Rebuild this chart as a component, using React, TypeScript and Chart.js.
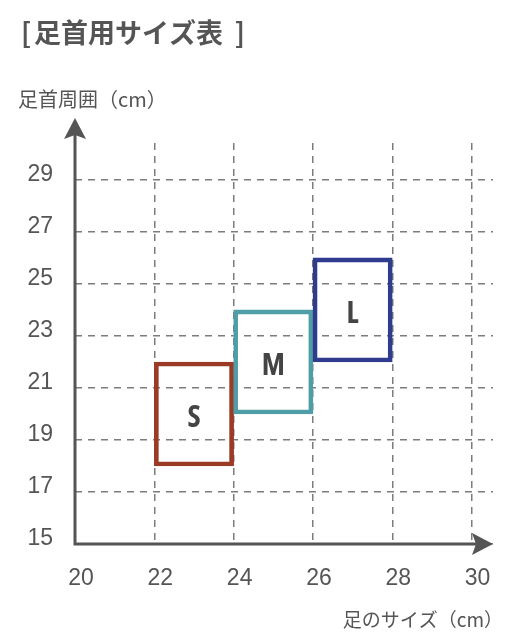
import { useEffect, useRef } from "react";
import { Chart, registerables } from "chart.js";

Chart.register(...registerables);

// Size table: foot length range (x) and ankle circumference range (y), in cm
const sizeNames = ["S", "M", "L"];
const footMin = [22, 24, 26];
const footMax = [24, 26, 28];
const ankleMin = [18, 20, 22];
const ankleMax = [22, 24, 26];
const sizeColors = ["#9b3b25", "#4f9ea7", "#2f3b8d"];

const xTicks = [20, 22, 24, 26, 28, 30];
const yTicks = [15, 17, 19, 21, 23, 25, 27, 29];

const chartTitle = "足首用サイズ表";
const yTitle = "足首周囲（cm）";
const xTitle = "足のサイズ（cm）";

const TEXT_GRAY = "#555555";
const AXIS_GRAY = "#555555";
const CJK = "'Noto Sans CJK JP', 'Noto Sans', sans-serif";

// Axes with arrowheads, size letters inside the boxes, and the free-standing titles
const decorPlugin = {
  id: "decor",
  afterDatasetsDraw(chart: any) {
    const { ctx, scales } = chart;
    const x = scales.x;
    const y = scales.y;
    ctx.save();
    ctx.fillStyle = "#444444";
    ctx.font = "bold 30px 'Open Sans', sans-serif";
    try {
      (ctx as any).fontStretch = "semi-condensed";
    } catch (e) {
      /* not supported */
    }
    ctx.textAlign = "center";
    ctx.textBaseline = "middle";
    sizeNames.forEach((name, i) => {
      const cx = x.getPixelForValue((footMin[i] + footMax[i]) / 2);
      const cy = y.getPixelForValue((ankleMin[i] + ankleMax[i]) / 2);
      ctx.fillText(name, cx, cy + 4);
    });
    ctx.restore();
  },
  afterDraw(chart: any) {
    const { ctx, chartArea, scales } = chart;
    const x = scales.x;
    const y = scales.y;
    const ox = x.getPixelForValue(xTicks[0]);
    const oy = y.getPixelForValue(yTicks[0]);
    const topTip = chartArea.top - 25;
    const rightTip = chartArea.right;

    ctx.save();
    // axis lines
    ctx.strokeStyle = AXIS_GRAY;
    ctx.lineWidth = 3;
    ctx.lineJoin = "miter";
    ctx.beginPath();
    ctx.moveTo(ox, topTip + 12);
    ctx.lineTo(ox, oy);
    ctx.lineTo(rightTip - 12, oy);
    ctx.stroke();

    // arrowheads
    ctx.fillStyle = AXIS_GRAY;
    ctx.beginPath();
    ctx.moveTo(ox, topTip);
    ctx.lineTo(ox + 11, topTip + 21);
    ctx.lineTo(ox, topTip + 17);
    ctx.lineTo(ox - 11, topTip + 21);
    ctx.closePath();
    ctx.fill();

    ctx.beginPath();
    ctx.moveTo(rightTip, oy);
    ctx.lineTo(rightTip - 21, oy - 11);
    ctx.lineTo(rightTip - 17, oy);
    ctx.lineTo(rightTip - 21, oy + 11);
    ctx.closePath();
    ctx.fill();

    // chart title in brackets
    ctx.fillStyle = TEXT_GRAY;
    ctx.textBaseline = "middle";
    ctx.font = `bold 27px ${CJK}`;
    ctx.textAlign = "left";
    ctx.fillText("[", 21, 33);
    ctx.fillText(chartTitle, 34, 33);
    ctx.textAlign = "right";
    ctx.fillText("]", 245, 33);

    // axis titles
    ctx.font = `20px ${CJK}`;
    ctx.textAlign = "left";
    ctx.fillText(yTitle, 18, 99);

    ctx.font = `19px ${CJK}`;
    ctx.textAlign = "right";
    ctx.fillText(xTitle, 503, 620);
    ctx.restore();
  },
};

export default function App() {
  const canvasRef = useRef<HTMLCanvasElement | null>(null);

  useEffect(() => {
    const canvas = canvasRef.current;
    if (!canvas) return;

    const boxes = sizeNames.map((_, i) => ({
      x: (footMin[i] + footMax[i]) / 2,
      y: [ankleMin[i], ankleMax[i]],
    }));

    const gridStyle = {
      color: "#7c7c7c",
      lineWidth: 1.5,
      drawTicks: false,
      offset: false,
      borderDash: [7, 6],
    } as any;

    const chart = new Chart(canvas, {
      type: "bar",
      data: {
        datasets: [
          {
            label: "サイズ",
            data: boxes as any,
            backgroundColor: "rgba(0,0,0,0)",
            borderColor: sizeColors,
            borderWidth: 4,
            borderSkipped: false,
            categoryPercentage: 1,
            barPercentage: 1,
          },
        ],
      },
      options: {
        animation: false,
        responsive: false,
        events: [],
        layout: { padding: { left: 0, top: 143, right: 26, bottom: 37 } },
        plugins: {
          legend: { display: false },
          tooltip: { enabled: false },
          title: { display: false },
        },
        scales: {
          x: {
            type: "linear",
            offset: false,
            min: 20,
            max: 30.54,
            afterBuildTicks: (axis: any) => {
              axis.ticks = xTicks.map((v) => ({ value: v }));
            },
            afterFit: (axis: any) => {
              axis.height = 60;
            },
            grid: gridStyle,
            border: { display: false, dash: [7, 6] },
            ticks: {
              color: TEXT_GRAY,
              font: { family: "'Liberation Sans', Arial, sans-serif", size: 23 },
              padding: 21,
              labelOffset: 6,
              maxRotation: 0,
              autoSkip: false,
            },
          },
          y: {
            type: "linear",
            min: 15,
            max: 30.42,
            afterBuildTicks: (axis: any) => {
              axis.ticks = yTicks.map((v) => ({ value: v }));
            },
            afterFit: (axis: any) => {
              axis.width = 75;
            },
            grid: gridStyle,
            border: { display: false, dash: [7, 6] },
            ticks: {
              color: TEXT_GRAY,
              font: { family: "'Liberation Sans', Arial, sans-serif", size: 23 },
              padding: 22,
              labelOffset: -5,
              autoSkip: false,
            },
          },
        },
      },
      plugins: [decorPlugin],
    });

    return () => chart.destroy();
  }, []);

  return (
    <div style={{ position: "absolute", left: 0, top: 0, width: 519, height: 641, background: "#ffffff" }}>
      <canvas ref={canvasRef} width={519} height={641} style={{ display: "block" }} />
    </div>
  );
}
